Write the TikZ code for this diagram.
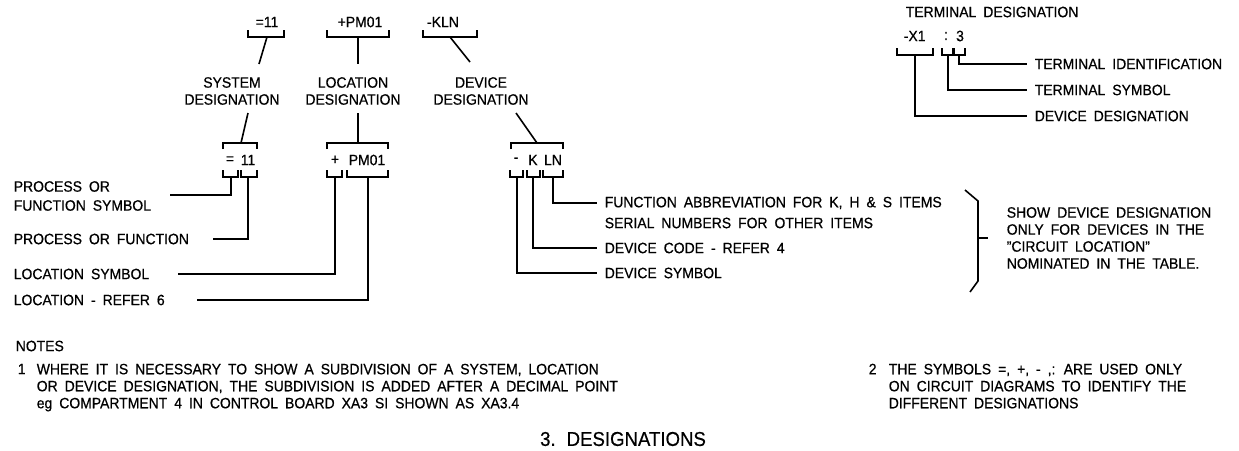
\documentclass[tikz,border=0pt]{standalone}
\usepackage{fontspec}
\setmainfont{Liberation Sans}[FakeStretch=0.93, FakeBold=0.6, WordSpace=1.8]
\usetikzlibrary{positioning}

% bracket open upwards (under a code) and open downwards (over a code)
\newcommand{\botbrk}[3]{\draw (#1,#3) -- (#1,{#3+7}) -- (#2,{#3+7}) -- (#2,#3);}
\newcommand{\topbrk}[3]{\draw (#1,{#3+6}) -- (#1,#3) -- (#2,#3) -- (#2,{#3+6});}

\begin{document}
\begin{tikzpicture}[x=1pt, y=-1pt, line width=1.6pt,
    font=\fontsize{15}{17}\selectfont,
    lbl/.style={inner sep=0pt, anchor=west},
    rlbl/.style={inner xsep=7pt, inner ysep=0pt, anchor=west},
    code/.style={inner sep=0pt}]

    \useasboundingbox (0,0) rectangle (1239,450);

    % Codes at the top
    \node[code] (c11) at (267,22) {=11};
    \node[code] (cpm) at (360,22) {+PM01};
    \node[code] (ckln) at (443,22) {-KLN};
    \botbrk{248}{284}{30}
    \botbrk{327}{389}{30}
    \botbrk{423}{477}{30}

    % Designations
    \node[code, align=center] (sysd) at (232,91) {SYSTEM\\DESIGNATION};
    \node[code, align=center] (locd) at (353,91) {LOCATION\\DESIGNATION};
    \node[code, align=center] (devd) at (481,91) {DEVICE\\DESIGNATION};

    \coordinate (c11b) at (267,37);
    \coordinate (sysdt) at (259,64);
    \coordinate (cpmb) at (358,37);
    \coordinate (locdt) at (358,64);
    \coordinate (cklnb) at (450,37);
    \coordinate (devdt) at (470,62);
    \draw (c11b) -- (sysdt);
    \draw (cpmb) -- (locdt);
    \draw (cklnb) -- (devdt);

    % System designation = 11
    \coordinate (sysdb) at (248,113);
    \coordinate (systop) at (241,143);
    \draw (sysdb) -- (systop);
    \topbrk{223}{257}{143}
    \node[code] (seq) at (230,160) {=};
    \node[code] (snum) at (248,160) {11};
    \botbrk{223}{238}{170}
    \botbrk{241}{257}{170}
    \node[lbl, align=left] (psym) at (13,196) {PROCESS OR\\[2pt]FUNCTION SYMBOL};
    \node[lbl] (pfun) at (13,239) {PROCESS OR FUNCTION};
    \coordinate (seqb) at (231,177);
    \coordinate (snumb) at (248,177);
    \coordinate (psymend) at (170,195);
    \coordinate (pfunend) at (213,239);
    \draw (seqb) |- (psymend);
    \draw (snumb) |- (pfunend);

    % Location designation + PM01
    \coordinate (locdb) at (358,113);
    \coordinate (loctop) at (358,143);
    \draw (locdb) -- (loctop);
    \topbrk{327}{388}{143}
    \node[code] (lplus) at (335,160) {+};
    \node[code] (lpm) at (367,160) {PM01};
    \botbrk{327}{342}{170}
    \botbrk{347}{388}{170}
    \node[lbl] (lsym) at (13,274) {LOCATION SYMBOL};
    \node[lbl] (lref) at (13,300) {LOCATION - REFER 6};
    \coordinate (lplusb) at (335,177);
    \coordinate (lpmb) at (368,177);
    \coordinate (lsymend) at (178,274);
    \coordinate (lrefend) at (197,300);
    \draw (lplusb) |- (lsymend);
    \draw (lpmb) |- (lrefend);

    % Device designation - K LN
    \coordinate (devdb) at (516,113);
    \coordinate (devtop) at (537,143);
    \draw (devdb) -- (devtop);
    \topbrk{511}{563}{143}
    \node[code] (dmin) at (516,160) {-};
    \node[code] (dk) at (533,160) {K};
    \node[code] (dln) at (553,160) {LN};
    \botbrk{510}{523}{170}
    \botbrk{527}{540}{170}
    \botbrk{543}{563}{170}
    \node[rlbl] (fabb) at (597,203) {FUNCTION ABBREVIATION FOR K, H \& S ITEMS};
    \node[lbl] (fser) at (604,223) {SERIAL NUMBERS FOR OTHER ITEMS};
    \node[rlbl] (dcode) at (597,248) {DEVICE CODE - REFER 4};
    \node[rlbl] (dsym) at (597,273) {DEVICE SYMBOL};
    \coordinate (dlnb) at (553,177);
    \coordinate (dkb) at (533,177);
    \coordinate (dminb) at (517,177);
    \draw (dlnb) |- (fabb.west);
    \draw (dkb) |- (dcode.west);
    \draw (dminb) |- (dsym.west);

    % Brace and remark
    \draw (965,190) -- (978,201) -- (978,281) -- (970,292);
    \draw (978,238) -- (988,238);
    \node[lbl, align=left] (remark) at (1006,238) {SHOW DEVICE DESIGNATION\\ONLY FOR DEVICES IN THE\\"CIRCUIT LOCATION"\\NOMINATED IN THE TABLE.};

    % Terminal designation
    \node[lbl] (termhead) at (905,12) {TERMINAL DESIGNATION};
    \node[lbl] (tdev) at (903,36) {-X1};
    \node[code] (tcol) at (946,36) {:};
    \node[code] (tnum) at (960,36) {3};
    \botbrk{897}{933}{48}
    \botbrk{942}{953}{48}
    \botbrk{954}{965}{48}
    \node[rlbl] (tid) at (1027,64) {TERMINAL IDENTIFICATION};
    \node[rlbl] (tsym) at (1027,90) {TERMINAL SYMBOL};
    \node[rlbl] (tdd) at (1027,116) {DEVICE DESIGNATION};
    \coordinate (tnumb) at (959,55);
    \coordinate (tcolb) at (948,55);
    \coordinate (tdevb) at (915,55);
    \draw (tnumb) |- (tid.west);
    \draw (tcolb) |- (tsym.west);
    \draw (tdevb) |- (tdd.west);

    % Notes
    \node[lbl] (notes) at (15,346) {NOTES};
    \node[lbl] (n1num) at (17,369) {1};
    \node[lbl, anchor=north west, align=left] (n1) at (36,363) {WHERE IT IS NECESSARY TO SHOW A SUBDIVISION OF A SYSTEM, LOCATION\\OR DEVICE DESIGNATION, THE SUBDIVISION IS ADDED AFTER A DECIMAL POINT\\eg COMPARTMENT 4 IN CONTROL BOARD XA3 SI SHOWN AS XA3.4};
    \node[lbl] (n2num) at (868,369) {2};
    \node[lbl, anchor=north west, align=left] (n2) at (888,363) {THE SYMBOLS =, +, - ,: ARE USED ONLY\\ON CIRCUIT DIAGRAMS TO IDENTIFY THE\\DIFFERENT DESIGNATIONS};

    % Title
    \node[code, font=\fontsize{20}{24}\selectfont] (title) at (623,439) {3. DESIGNATIONS};

\end{tikzpicture}
\end{document}
